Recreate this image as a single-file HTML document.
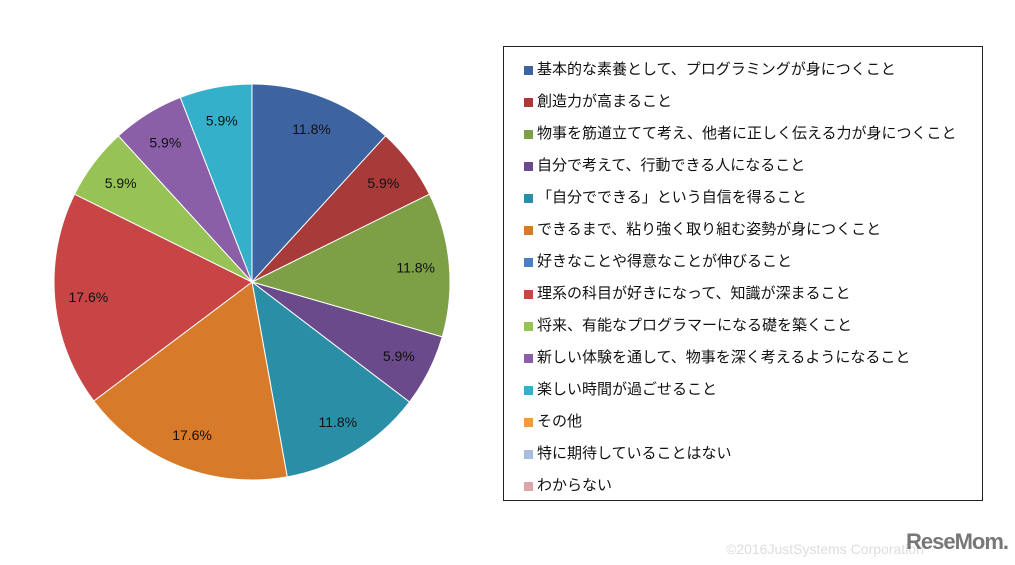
<!DOCTYPE html>
<html><head><meta charset="utf-8"><style>
body{margin:0;width:1015px;height:565px;background:#fff;overflow:hidden;font-family:"Liberation Sans","Noto Sans CJK JP",sans-serif;position:relative}
#legend{position:absolute;left:503px;top:46px;width:480px;height:455px;border:1px solid #222;box-sizing:border-box}
.li{position:absolute;left:20px;font-size:15px;color:#111;white-space:nowrap}
.sq{display:inline-block;width:9px;height:9px;margin-right:4px;vertical-align:-1px}
#copy{position:absolute;left:726px;top:541px;font-size:14px;color:#ddd}
#logo{position:absolute;left:906px;top:529px;font-size:22px;font-weight:bold;color:#777;letter-spacing:-1px}
</style></head><body>
<svg id="pie" width="500" height="565" style="position:absolute;left:0;top:0"></svg>
<div id="legend"></div>
<div id="copy">©2016JustSystems Corporation</div>
<div id="logo">ReseMom.</div>
<script>
const categories=["基本的な素養として、プログラミングが身につくこと","創造力が高まること","物事を筋道立てて考え、他者に正しく伝える力が身につくこと","自分で考えて、行動できる人になること","「自分でできる」という自信を得ること","できるまで、粘り強く取り組む姿勢が身につくこと","好きなことや得意なことが伸びること","理系の科目が好きになって、知識が深まること","将来、有能なプログラマーになる礎を築くこと","新しい体験を通して、物事を深く考えるようになること","楽しい時間が過ごせること","その他","特に期待していることはない","わからない"];
const values=[11.8,5.9,11.8,5.9,11.8,17.6,0,17.6,5.9,5.9,5.9,0,0,0];
const colors=["#3d64a0","#a83a3a","#7da046","#6a4a8a","#2a8fa6","#d77a2a","#4a7fc1","#c94444","#96c256","#8a5fa8","#35b0cb","#f59a3c","#a9bcdc","#dba6a8"];
const svg=document.getElementById('pie');const NS="http://www.w3.org/2000/svg";
const cx=252,cy=282,r=198;const total=values.reduce((a,b)=>a+b,0);
let a0=-Math.PI/2;
values.forEach((v,i)=>{if(v<=0)return;const a1=a0+v/total*2*Math.PI;
const x0=cx+r*Math.cos(a0),y0=cy+r*Math.sin(a0),x1=cx+r*Math.cos(a1),y1=cy+r*Math.sin(a1);
const p=document.createElementNS(NS,'path');
p.setAttribute('d',`M${cx},${cy}L${x0},${y0}A${r},${r} 0 ${a1-a0>Math.PI?1:0} 1 ${x1},${y1}Z`);
p.setAttribute('fill',colors[i]);p.setAttribute('stroke','#fff');p.setAttribute('stroke-width','1');


svg.appendChild(p);
const am=(a0+a1)/2,lr=r*0.83;
const t=document.createElementNS(NS,'text');t.setAttribute('x',cx+lr*Math.cos(am));t.setAttribute('y',cy+lr*Math.sin(am)+5);
t.setAttribute('text-anchor','middle');t.setAttribute('font-size','14');t.setAttribute('fill','#111');t.textContent=v.toFixed(1)+'%';


svg.appendChild(t);a0=a1;});
const lg=document.getElementById('legend');
categories.forEach((c,i)=>{const d=document.createElement('div');d.className='li';d.style.top=(11+i*32)+'px';
d.innerHTML=`<span class="sq" style="background:${colors[i]}"></span>${c}`;


lg.appendChild(d);});
</script>
</body></html>
